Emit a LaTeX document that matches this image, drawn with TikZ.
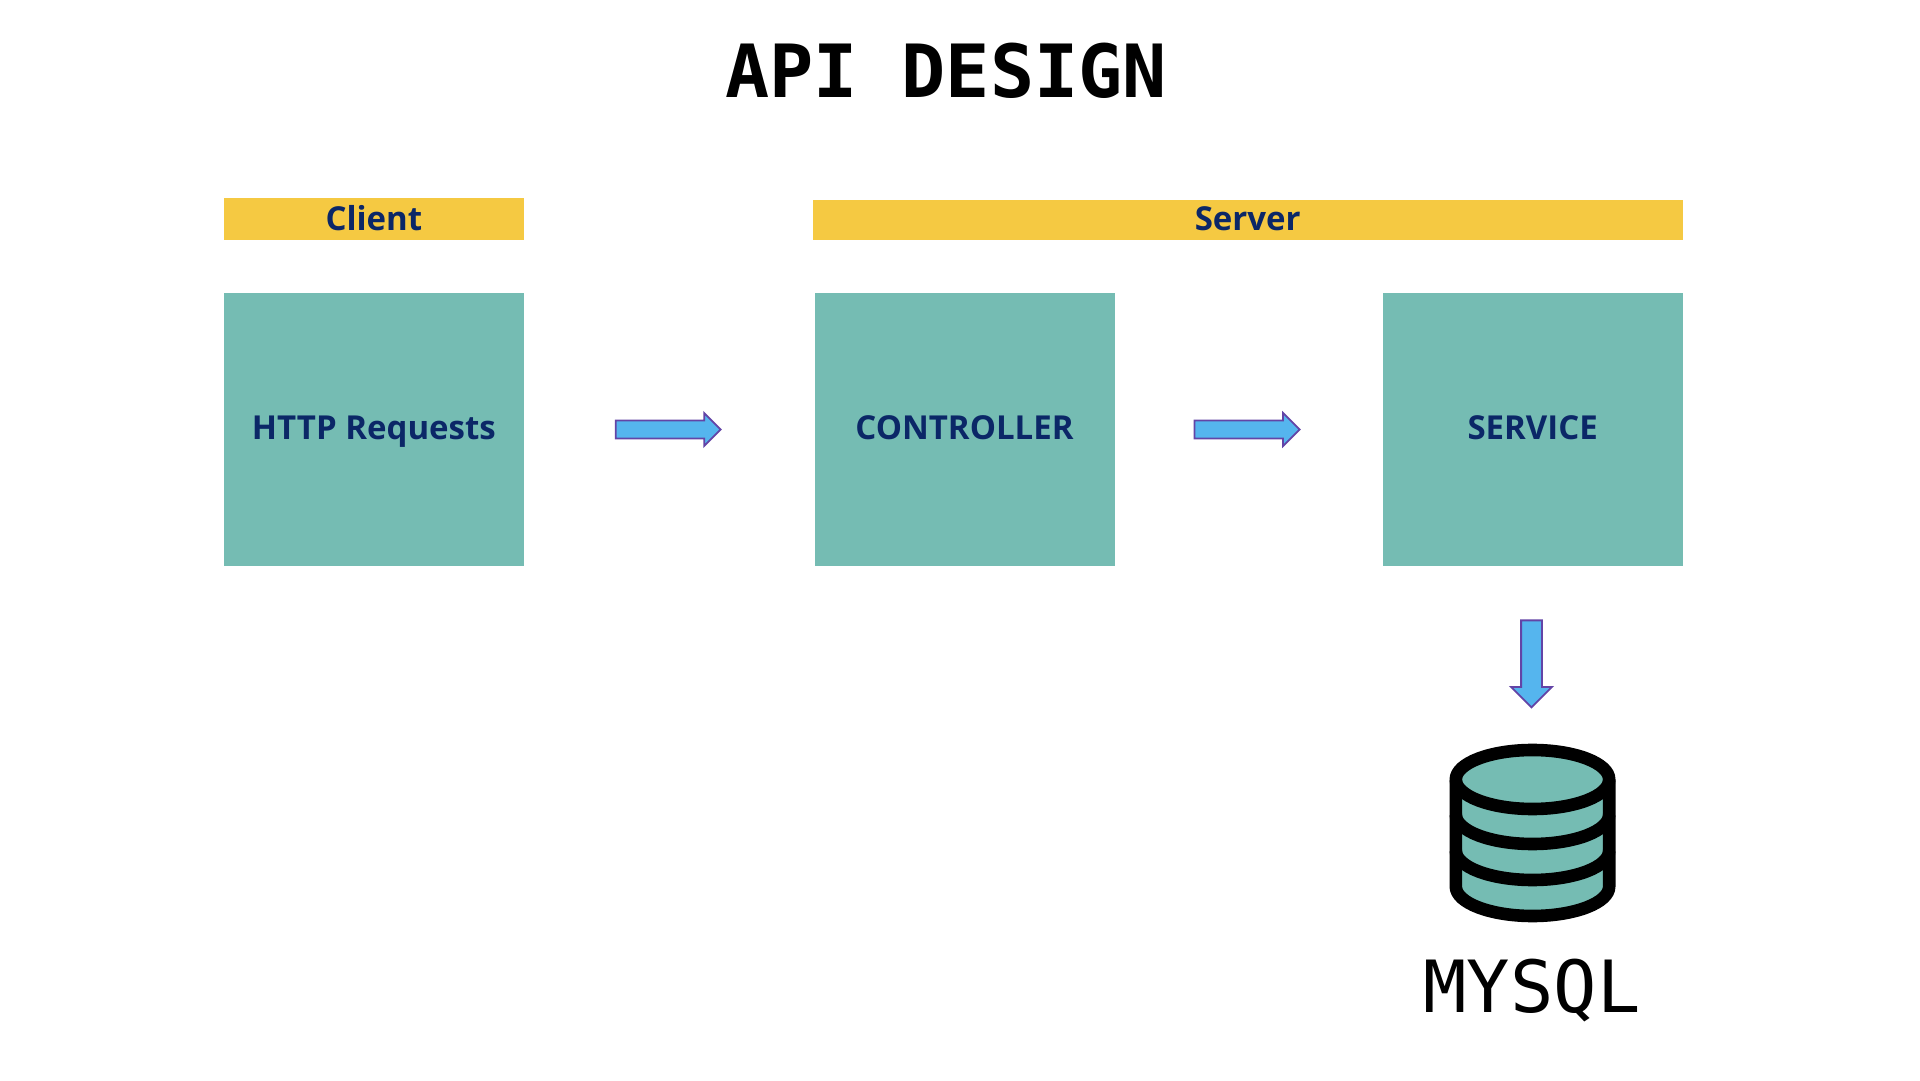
\documentclass[tikz,border=0pt]{standalone}
\usepackage{fontspec}
\setmainfont{Open Sans}
\newfontfamily\monofam{DejaVu Sans Mono}
\usetikzlibrary{shapes.arrows}
\definecolor{teal1}{HTML}{75BCB3}
\definecolor{gold1}{HTML}{F5C942}
\definecolor{navy1}{HTML}{0B2767}
\definecolor{sky1}{HTML}{55B5EE}
\definecolor{purp1}{HTML}{6344A6}
\tikzset{
 bar/.style={fill=gold1,inner sep=0,text=navy1},
 boxx/.style={fill=teal1,inner sep=0,minimum width=300pt,minimum height=272.7pt},
 lab/.style={anchor=base,inner sep=0,text=navy1,font=\fontsize{33}{33}\selectfont\bfseries},
 blockarrow/.style={single arrow,draw=purp1,line width=1.8pt,fill=sky1,inner sep=0pt,inner ysep=8pt,single arrow head extend=7.5pt,shape border uses incircle=false,minimum height=105pt,minimum width=33pt},
 dbline/.style={draw=black,line width=12.6pt,line join=round}
}
\begin{document}
\begin{tikzpicture}[x=1pt,y=1pt]
\useasboundingbox (0,0) rectangle (1920,1080);
\fill[white] (0,0) rectangle (1920,1080);
\node[font=\fontsize{73.4}{73.4}\selectfont\monofam\bfseries] (title) at (946,1009) {API DESIGN};
\node[bar,minimum width=300pt,minimum height=41.7pt] (client) at (373.9,861.2) {};
\node[bar,minimum width=869.8pt,minimum height=40.4pt] (server) at (1247.7,860) {};
\node[boxx] (http) at (373.9,650.3) {};
\node[boxx] (ctrl) at (964.5,650.3) {};
\node[boxx] (svc) at (1532.7,650.3) {};
\node[lab] (clientt) at (373.9,849) {Client};
\node[lab] (servert) at (1247.7,849) {Server};
\node[lab] (httpt) at (373.9,640.5) {HTTP Requests};
\node[lab] (ctrlt) at (964.5,640.5) {CONTROLLER};
\node[lab] (svct) at (1532.7,640.5) {SERVICE};
\node[blockarrow] (a1) at (663.7,650.5) {};
\node[blockarrow] (a2) at (1242.6,650.5) {};
\node[blockarrow,rotate=-90,minimum height=87pt,minimum width=39pt,inner ysep=9.5pt,single arrow head extend=10pt] (a3) at (1531.5,421.3) {};
% database
\filldraw[dbline,fill=teal1] (1455.8,300.5) -- (1455.8,193.5) arc[start angle=180,end angle=360,x radius=76.7,y radius=29.5] -- (1609.2,300.5) arc[start angle=0,end angle=180,x radius=76.7,y radius=29.5] -- cycle;
\draw[dbline] (1455.8,300.5) arc[start angle=180,end angle=360,x radius=76.7,y radius=29.5];
\draw[dbline] (1455.8,265.5) arc[start angle=180,end angle=360,x radius=76.7,y radius=29.5];
\draw[dbline] (1455.8,229.5) arc[start angle=180,end angle=360,x radius=76.7,y radius=29.5];
\node[font=\fontsize{72}{72}\selectfont\monofam] (mysql) at (1532,89) {MYSQL};
\end{tikzpicture}
\end{document}
